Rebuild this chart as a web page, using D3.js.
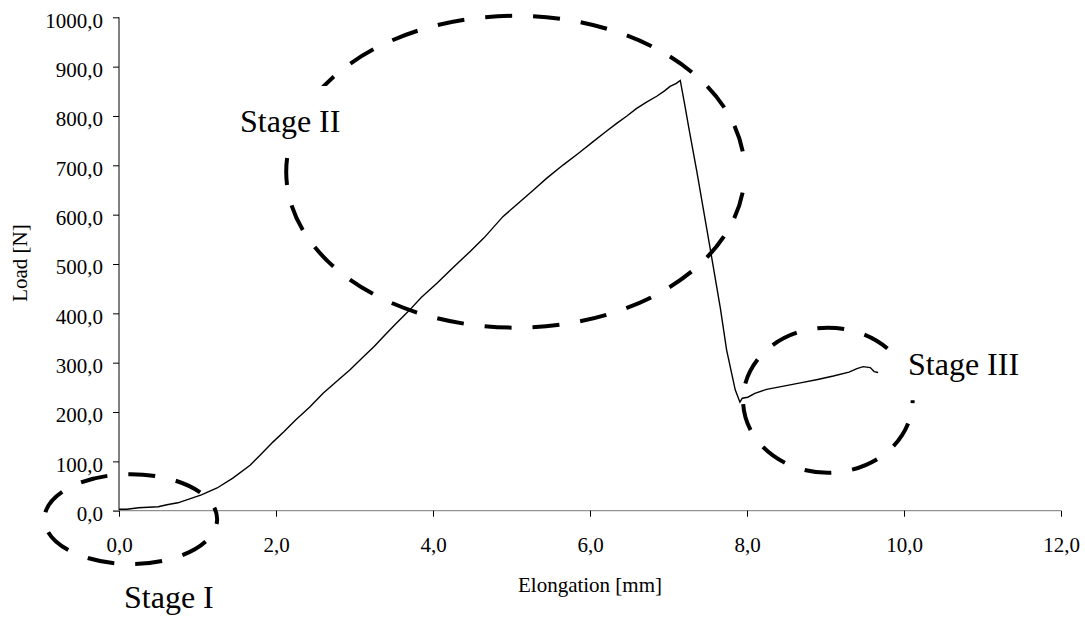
<!DOCTYPE html>
<html>
<head>
<meta charset="utf-8">
<script src="https://cdn.jsdelivr.net/npm/d3@7"></script>
<style>
  body { margin: 0; background: #fff; }
  svg { display: block; }
  text { font-family: "Liberation Serif", "Times New Roman", serif; fill: #000; }
</style>
</head>
<body>
<main></main>
<script>
// elongation [mm] / load [N]
const elongation = [0.00, 0.10, 0.25, 0.50, 0.61, 0.75, 0.90, 1.05, 1.25, 1.45, 1.67, 1.80, 1.96, 2.10, 2.25, 2.43, 2.60, 2.80, 2.94, 3.10, 3.25, 3.37, 3.52, 3.68, 3.85, 4.05, 4.25, 4.47, 4.65, 4.89, 5.05, 5.28, 5.45, 5.66, 5.85, 6.04, 6.20, 6.34, 6.47, 6.59, 6.72, 6.85, 6.95, 7.02, 7.10, 7.15, 7.21, 7.26, 7.36, 7.53, 7.66, 7.74, 7.85, 7.91, 7.94, 8.01, 8.10, 8.25, 8.45, 8.68, 8.90, 9.10, 9.30, 9.40, 9.48, 9.57, 9.62, 9.67]
const load = [3, 3, 6, 8, 12, 16, 24, 32, 46, 66, 92, 113, 139, 160, 184, 210, 238, 266, 285, 310, 333, 353, 378, 403, 432, 461, 492, 525, 553, 596, 618, 650, 674, 701, 724, 748, 768, 785, 800, 815, 828, 840, 851, 860, 866, 872, 820, 775, 688, 532, 411, 326, 245, 220, 228, 230, 238, 246, 252, 259, 266, 273, 281, 288, 292, 290, 282, 280]

const xTicks = [0, 2, 4, 6, 8, 10, 12]
const yTicks = [0, 100, 200, 300, 400, 500, 600, 700, 800, 900, 1000]

// stage markers: centre (mm, N) and radii (mm, N)
const stageNames = ['Stage I', 'Stage II', 'Stage III']
const stageCentres = [[0.15, -17], [5.05, 687], [9.03, 224]]
const stageRadii = [[1.1, 91], [2.92, 316], [1.08, 147]]

const width = 1085
const height = 617

const svg = d3.select('main')
  .append('svg')
  .attr('width', width)
  .attr('height', height)

const x = d3.scaleLinear().domain([0, 12]).range([119, 1061])
const y = d3.scaleLinear().domain([0, 1000]).range([510.7, 17.3])

const locale = d3.formatLocale({ decimal: ',', thousands: '', grouping: [3], currency: ['', ''] })
const fmt = locale.format('.1f')

// y axis
const yAxis = svg.append('g')
  .attr('transform', `translate(${x(0)},0)`)
  .call(d3.axisLeft(y).tickValues(yTicks).tickSize(6).tickPadding(10).tickFormat(fmt))
yAxis.select('.domain').attr('stroke', '#000').attr('d', `M0,${y(0)}V${y(1000)}`)
yAxis.selectAll('.tick line').attr('stroke', '#000')
yAxis.selectAll('.tick text')
  .attr('dy', '0.47em')
  .style('font-size', '21px')
  .style('font-family', '"Liberation Serif", serif')

// x axis
const xAxis = svg.append('g')
  .attr('transform', `translate(0,${y(0)})`)
  .call(d3.axisBottom(x).tickValues(xTicks).tickSize(6).tickPadding(20).tickFormat(fmt))
xAxis.select('.domain').attr('stroke', '#777').attr('d', `M${x(0) - 6},0H${x(12)}`)
xAxis.selectAll('.tick line').attr('stroke', '#000')
xAxis.selectAll('.tick text')
  .attr('y', 41.5)
  .attr('dy', 0)
  .style('font-size', '21px')
  .style('font-family', '"Liberation Serif", serif')

// axis titles
svg.append('text')
  .attr('transform', `translate(26.7,263) rotate(-90)`)
  .attr('text-anchor', 'middle')
  .style('font-size', '21px')
  .text('Load [N]')
svg.append('text')
  .attr('x', 590)
  .attr('y', 592)
  .attr('text-anchor', 'middle')
  .style('font-size', '21px')
  .text('Elongation [mm]')

// curve
const line = d3.line()
  .x(d => x(d[0]))
  .y(d => y(d[1]))
svg.append('path')
  .datum(elongation.map((e, i) => [e, load[i]]))
  .attr('fill', 'none')
  .attr('stroke', '#000')
  .attr('stroke-width', 1.4)
  .attr('d', line)

// dashed stage ellipses
const dashOffsets = [22, 27, 24]
svg.selectAll('.stage')
  .data(stageNames)
  .enter()
  .append('ellipse')
  .attr('class', 'stage')
  .attr('cx', (d, i) => x(stageCentres[i][0]))
  .attr('cy', (d, i) => y(stageCentres[i][1]))
  .attr('rx', (d, i) => x(stageRadii[i][0]) - x(0))
  .attr('ry', (d, i) => y(0) - y(stageRadii[i][1]))
  .attr('fill', 'none')
  .attr('stroke', '#000')
  .attr('stroke-width', 4)
  .attr('stroke-dasharray', '27 21')
  .attr('stroke-dashoffset', (d, i) => dashOffsets[i])

// stage labels with white boxes
const labelPos = [[124, 608], [240, 132], [908, 375]]
const boxes = [null, [232, 86, 112, 62], [900, 340, 130, 56]]
stageNames.forEach((name, i) => {
  if (boxes[i]) {
    svg.append('rect')
      .attr('x', boxes[i][0])
      .attr('y', boxes[i][1])
      .attr('width', boxes[i][2])
      .attr('height', boxes[i][3])
      .attr('fill', '#fff')
  }
  svg.append('text')
    .attr('x', labelPos[i][0])
    .attr('y', labelPos[i][1])
    .style('font-size', '32px')
    .text(name)
})
</script>
</body>
</html>
